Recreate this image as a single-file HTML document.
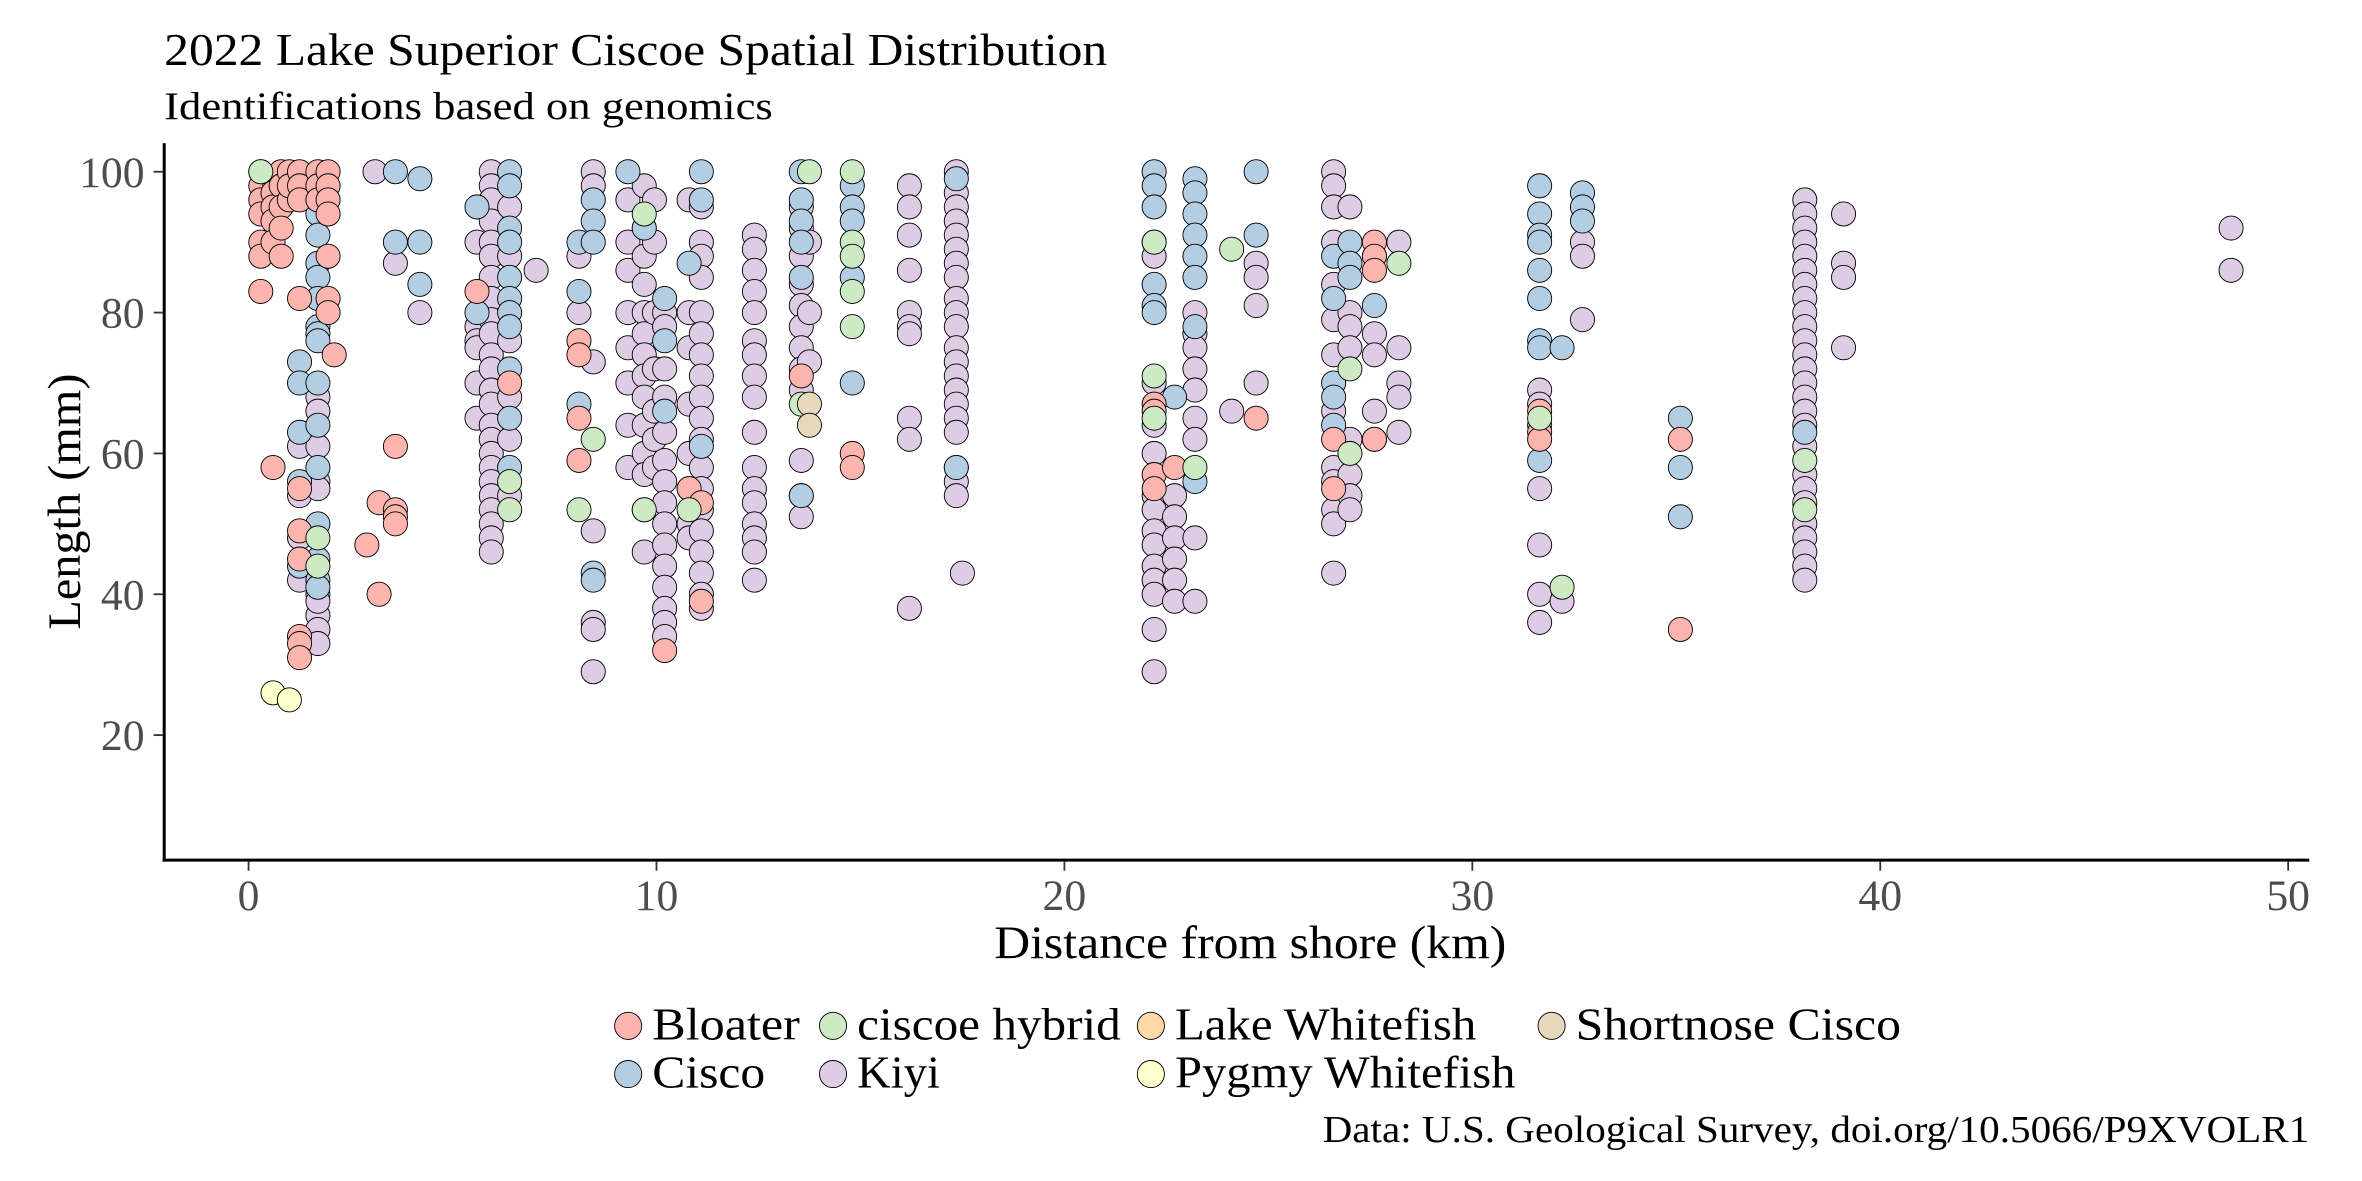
<!DOCTYPE html>
<html><head><meta charset="utf-8"><style>
html,body{margin:0;padding:0;background:#fff}
svg{display:block}
text{font-family:"Liberation Serif",serif}
</style></head><body>
<svg id="chart" width="2362" height="1181" viewBox="0 0 1568 784" preserveAspectRatio="none" xmlns="http://www.w3.org/2000/svg">
<text x="109" y="43" font-size="30" textLength="626" lengthAdjust="spacingAndGlyphs" fill="#000">2022 Lake Superior Ciscoe Spatial Distribution</text>
<text x="109" y="79" font-size="26" textLength="404" lengthAdjust="spacingAndGlyphs" fill="#000">Identifications based on genomics</text>
<g id="plot"></g>
<g id="axes"></g>
<text x="830" y="636" font-size="31" textLength="340" lengthAdjust="spacingAndGlyphs" text-anchor="middle">Distance from shore (km)</text>
<text transform="translate(53,333) rotate(-90)" font-size="31" textLength="170" lengthAdjust="spacingAndGlyphs" text-anchor="middle">Length (mm)</text>
<g id="legend"></g>
<text x="1533" y="758" font-size="25" textLength="655" lengthAdjust="spacingAndGlyphs" text-anchor="end">Data: U.S. Geological Survey, doi.org/10.5066/P9XVOLR1</text>
</svg>
<script>
const xTicks=[0,10,20,30,40,50];
const yTicks=[20,40,60,80,100];
const speciesNames=["Kiyi","Cisco","Bloater","ciscoe hybrid","Shortnose Cisco","Pygmy Whitefish","Lake Whitefish"];
const speciesColors=["#DECBE4","#B3CDE3","#FBB4AE","#CCEBC5","#E5D8BD","#FFFFCC","#FED9A6"];
const kiyi=[[1.25,61],[1.25,54],[1.25,48],[1.25,42],[1.7,68],[1.7,66],[1.7,61],[1.7,56],[1.7,55],[1.7,40],[1.7,37],[1.7,35],[1.7,33],[1.7,39],[3.1,100],[3.6,87],[4.2,80],
[5.6,90],[5.6,78],[5.6,76],[5.6,75],[5.6,70],[5.6,65],
[5.95,100],[5.95,98],[5.95,96],[5.95,93],[5.95,90],[5.95,88],[5.95,85],[5.95,82],[5.95,79],[5.95,77],[5.95,74],[5.95,72],[5.95,69],[5.95,67],[5.95,64],[5.95,62],[5.95,60],[5.95,58],[5.95,56],[5.95,54],[5.95,52],[5.95,50],[5.95,48],[5.95,46],
[6.4,95],[6.4,88],[6.4,76],[6.4,68],[6.4,62],[6.4,54],[7.05,86],
[8.1,88],[8.1,80],[8.45,100],[8.45,98],[8.45,73],[8.45,49],[8.45,36],[8.45,35],[8.45,29],
[9.3,96],[9.3,90],[9.3,86],[9.3,80],[9.3,75],[9.3,70],[9.3,64],[9.3,58],
[9.7,98],[9.7,92],[9.7,88],[9.7,84],[9.7,80],[9.7,77],[9.7,74],[9.7,71],[9.7,68],[9.7,64],[9.7,60],[9.7,57],[9.7,52],[9.7,46],
[9.95,96],[9.95,90],[9.95,80],[9.95,72],[9.95,66],[9.95,62],[9.95,58],
[10.2,80],[10.2,78],[10.2,72],[10.2,68],[10.2,63],[10.2,59],[10.2,56],[10.2,53],[10.2,50],[10.2,47],[10.2,44],[10.2,41],[10.2,38],[10.2,36],[10.2,34],
[10.8,96],[10.8,80],[10.8,75],[10.8,67],[10.8,60],[10.8,55],[10.8,50],[10.8,48],
[11.1,95],[11.1,90],[11.1,88],[11.1,85],[11.1,80],[11.1,77],[11.1,74],[11.1,71],[11.1,68],[11.1,65],[11.1,62],[11.1,58],[11.1,55],[11.1,52],[11.1,49],[11.1,46],[11.1,43],[11.1,40],[11.1,38],
[12.4,91],[12.4,89],[12.4,86],[12.4,83],[12.4,80],[12.4,76],[12.4,74],[12.4,71],[12.4,68],[12.4,63],[12.4,58],[12.4,55],[12.4,53],[12.4,50],[12.4,48],[12.4,46],[12.4,42],
[13.55,95],[13.55,92],[13.55,88],[13.55,84],[13.55,81],[13.55,78],[13.55,75],[13.55,72],[13.55,69],[13.55,59],[13.55,54],[13.55,51],[13.75,90],[13.75,80],[13.75,73],
[16.2,98],[16.2,95],[16.2,91],[16.2,86],[16.2,80],[16.2,78],[16.2,77],[16.2,65],[16.2,62],[16.2,38],
[17.35,100],[17.35,97],[17.35,95],[17.35,93],[17.35,91],[17.35,89],[17.35,87],[17.35,85],[17.35,82],[17.35,80],[17.35,78],[17.35,75],[17.35,73],[17.35,71],[17.35,69],[17.35,67],[17.35,65],[17.35,63],[17.35,58],[17.35,56],[17.35,54],[17.5,43],
[22.2,88],[22.2,70],[22.2,64],[22.2,60],[22.2,54],[22.2,52],[22.2,49],[22.2,47],[22.2,44],[22.2,42],[22.2,40],[22.2,35],[22.2,29],
[22.7,54],[22.7,51],[22.7,48],[22.7,45],[22.7,42],[22.7,39],
[23.2,80],[23.2,77],[23.2,75],[23.2,72],[23.2,69],[23.2,65],[23.2,62],[23.2,48],[23.2,39],
[24.1,66],[24.7,87],[24.7,85],[24.7,81],[24.7,70],
[26.6,100],[26.6,98],[26.6,95],[26.6,90],[26.6,84],[26.6,79],[26.6,74],[26.6,66],[26.6,58],[26.6,56],[26.6,52],[26.6,50],[26.6,43],
[27.0,95],[27.0,80],[27.0,78],[27.0,75],[27.0,62],[27.0,57],[27.0,54],[27.0,52],
[27.6,77],[27.6,74],[27.6,66],[27.6,62],[28.2,90],[28.2,75],[28.2,70],[28.2,68],[28.2,63],
[31.65,69],[31.65,67],[31.65,55],[31.65,47],[31.65,40],[31.65,36],[32.2,39],[32.7,90],[32.7,88],[32.7,79],
[38.15,96],[38.15,94],[38.15,92],[38.15,90],[38.15,88],[38.15,86],[38.15,84],[38.15,82],[38.15,80],[38.15,78],[38.15,76],[38.15,74],[38.15,72],[38.15,70],[38.15,68],[38.15,66],[38.15,64],[38.15,61],[38.15,57],[38.15,55],[38.15,53],[38.15,50],[38.15,48],[38.15,46],[38.15,44],[38.15,42],
[39.1,94],[39.1,87],[39.1,85],[39.1,75],[48.6,92],[48.6,86]];
const cisco=[[1.25,73],[1.25,70],[1.25,63],[1.25,56],[1.25,44],
[1.7,94],[1.7,91],[1.7,87],[1.7,85],[1.7,82],[1.7,78],[1.7,77],[1.7,76],[1.7,70],[1.7,64],[1.7,58],[1.7,50],[1.7,45],[1.7,42],[1.7,41],
[3.6,100],[3.6,90],[4.2,99],[4.2,90],[4.2,84],[5.6,95],[5.6,80],
[6.4,100],[6.4,98],[6.4,92],[6.4,90],[6.4,85],[6.4,82],[6.4,80],[6.4,78],[6.4,72],[6.4,65],[6.4,58],
[8.1,90],[8.1,83],[8.1,67],[8.45,96],[8.45,93],[8.45,90],[8.45,43],[8.45,42],[9.3,100],[9.7,92],
[10.2,82],[10.2,76],[10.2,66],[10.8,87],[11.1,100],[11.1,96],[11.1,61],
[13.55,100],[13.55,96],[13.55,93],[13.55,90],[13.55,85],[13.55,54],
[14.8,98],[14.8,95],[14.8,93],[14.8,85],[14.8,70],[17.35,99],[17.35,58],
[22.2,100],[22.2,98],[22.2,95],[22.2,90],[22.2,84],[22.2,81],[22.2,80],
[22.7,68],[23.2,99],[23.2,97],[23.2,94],[23.2,91],[23.2,88],[23.2,85],[23.2,78],[23.2,56],
[24.7,100],[24.7,91],[26.6,88],[26.6,82],[26.6,70],[26.6,68],[26.6,64],
[27.0,90],[27.0,87],[27.0,85],[27.6,88],[27.6,81],
[31.65,98],[31.65,94],[31.65,91],[31.65,90],[31.65,86],[31.65,82],[31.65,76],[31.65,75],[31.65,64],[31.65,59],[32.2,75],
[32.7,97],[32.7,95],[32.7,93],[35.1,65],[35.1,58],[35.1,51],[38.15,63]];
const bloater=[[0.3,100],[0.3,98],[0.3,96],[0.3,94],[0.3,90],[0.3,88],[0.3,83],[0.6,99],[0.6,97],[0.6,95],[0.6,93],[0.6,90],[0.6,58],
[0.8,100],[0.8,98],[0.8,95],[0.8,92],[0.8,88],[1.0,100],[1.0,96],[1.0,98],[1.25,100],[1.25,98],[1.25,96],[1.25,82],[1.25,55],[1.25,49],[1.25,45],[1.25,34],[1.25,33],[1.25,31],
[1.7,100],[1.7,98],[1.7,96],[1.95,100],[1.95,98],[1.95,96],[1.95,94],[1.95,88],[1.95,82],[1.95,80],[2.1,74],
[2.9,47],[3.2,53],[3.2,40],[3.6,61],[3.6,52],[3.6,51],[3.6,50],[5.6,83],[6.4,70],
[8.1,76],[8.1,74],[8.1,65],[8.1,59],[10.2,32],[10.8,55],[11.1,53],[11.1,39],[13.55,71],[14.8,60],[14.8,58],
[22.2,67],[22.2,66],[22.2,57],[22.2,55],[22.7,58],[24.7,65],[26.6,62],[26.6,55],[27.6,90],[27.6,88],[27.6,86],[27.6,62],
[31.65,66],[31.65,63],[31.65,62],[35.1,62],[35.1,35]];
const hybrid=[[0.3,100],[1.7,48],[1.7,44],[6.4,56],[6.4,52],[8.1,52],[8.45,62],[9.7,94],[9.7,52],[10.8,52],[13.55,67],[13.75,100],
[14.8,100],[14.8,90],[14.8,88],[14.8,83],[14.8,78],[22.2,90],[22.2,71],[22.2,65],[23.2,58],[24.1,89],[27.0,72],[27.0,60],[28.2,87],[31.65,65],[32.2,41],[38.15,59],[38.15,52]];
const shortnose=[[13.75,67],[13.75,64]];
const pygmy=[[0.6,26],[1.0,25]];
const seriesList=[kiyi,cisco,bloater,hybrid,shortnose,pygmy];

const X0=165,PXKM=(1519-165)/50,Y100=114,PXMM=(488-114)/80;
function xs(v){return X0+v*PXKM;}
function ys(v){return Y100+(100-v)*PXMM;}
const NS="http://www.w3.org/2000/svg";
function mk(tag,attrs,parent){const e=document.createElementNS(NS,tag);for(const k in attrs)e.setAttribute(k,attrs[k]);parent.appendChild(e);return e;}
const plot=document.getElementById('plot');
seriesList.forEach((arr,si)=>{
  arr.forEach(p=>{
    const c=mk('circle',{cx:xs(p[0]),cy:ys(p[1]),r:8,fill:speciesColors[si],stroke:'#000','stroke-width':0.6},plot);
    
    
  });
});
const axes=document.getElementById('axes');
const yl=mk('line',{x1:109,y1:95,x2:109,y2:572,stroke:'#000','stroke-width':2},axes);


const xl=mk('line',{x1:108,y1:571,x2:1533,y2:571,stroke:'#000','stroke-width':2},axes);


xTicks.forEach(t=>{
  mk('line',{x1:xs(t),y1:572,x2:xs(t),y2:578,stroke:'#333','stroke-width':1.2},axes);
  const tx=mk('text',{x:xs(t),y:604,'font-size':29,'text-anchor':'middle',fill:'#4d4d4d'},axes);
  tx.textContent=t;
  
  
});
yTicks.forEach(t=>{
  mk('line',{x1:102,y1:ys(t),x2:108,y2:ys(t),stroke:'#333','stroke-width':1.2},axes);
  const tx=mk('text',{x:96,y:ys(t)+10,'font-size':29,'text-anchor':'end',fill:'#4d4d4d'},axes);
  tx.textContent=t;
  
  
});
const legItems=[["Bloater",2,417,681,98],["ciscoe hybrid",3,553,681,175],["Lake Whitefish",6,764,681,200],["Shortnose Cisco",4,1030,681,216],["Cisco",1,417,713,75],["Kiyi",0,553,713,55],["Pygmy Whitefish",5,764,713,226]];
const leg=document.getElementById('legend');
legItems.forEach(it=>{
  const g=mk('g',{},leg);
  
  
  mk('circle',{cx:it[2],cy:it[3],r:9,fill:speciesColors[it[1]],stroke:'#000','stroke-width':0.6},g);
  const t=mk('text',{x:it[2]+16,y:it[3]+9,'font-size':30,textLength:it[4],lengthAdjust:'spacingAndGlyphs'},g);
  t.textContent=it[0];
});
</script>
</body></html>
